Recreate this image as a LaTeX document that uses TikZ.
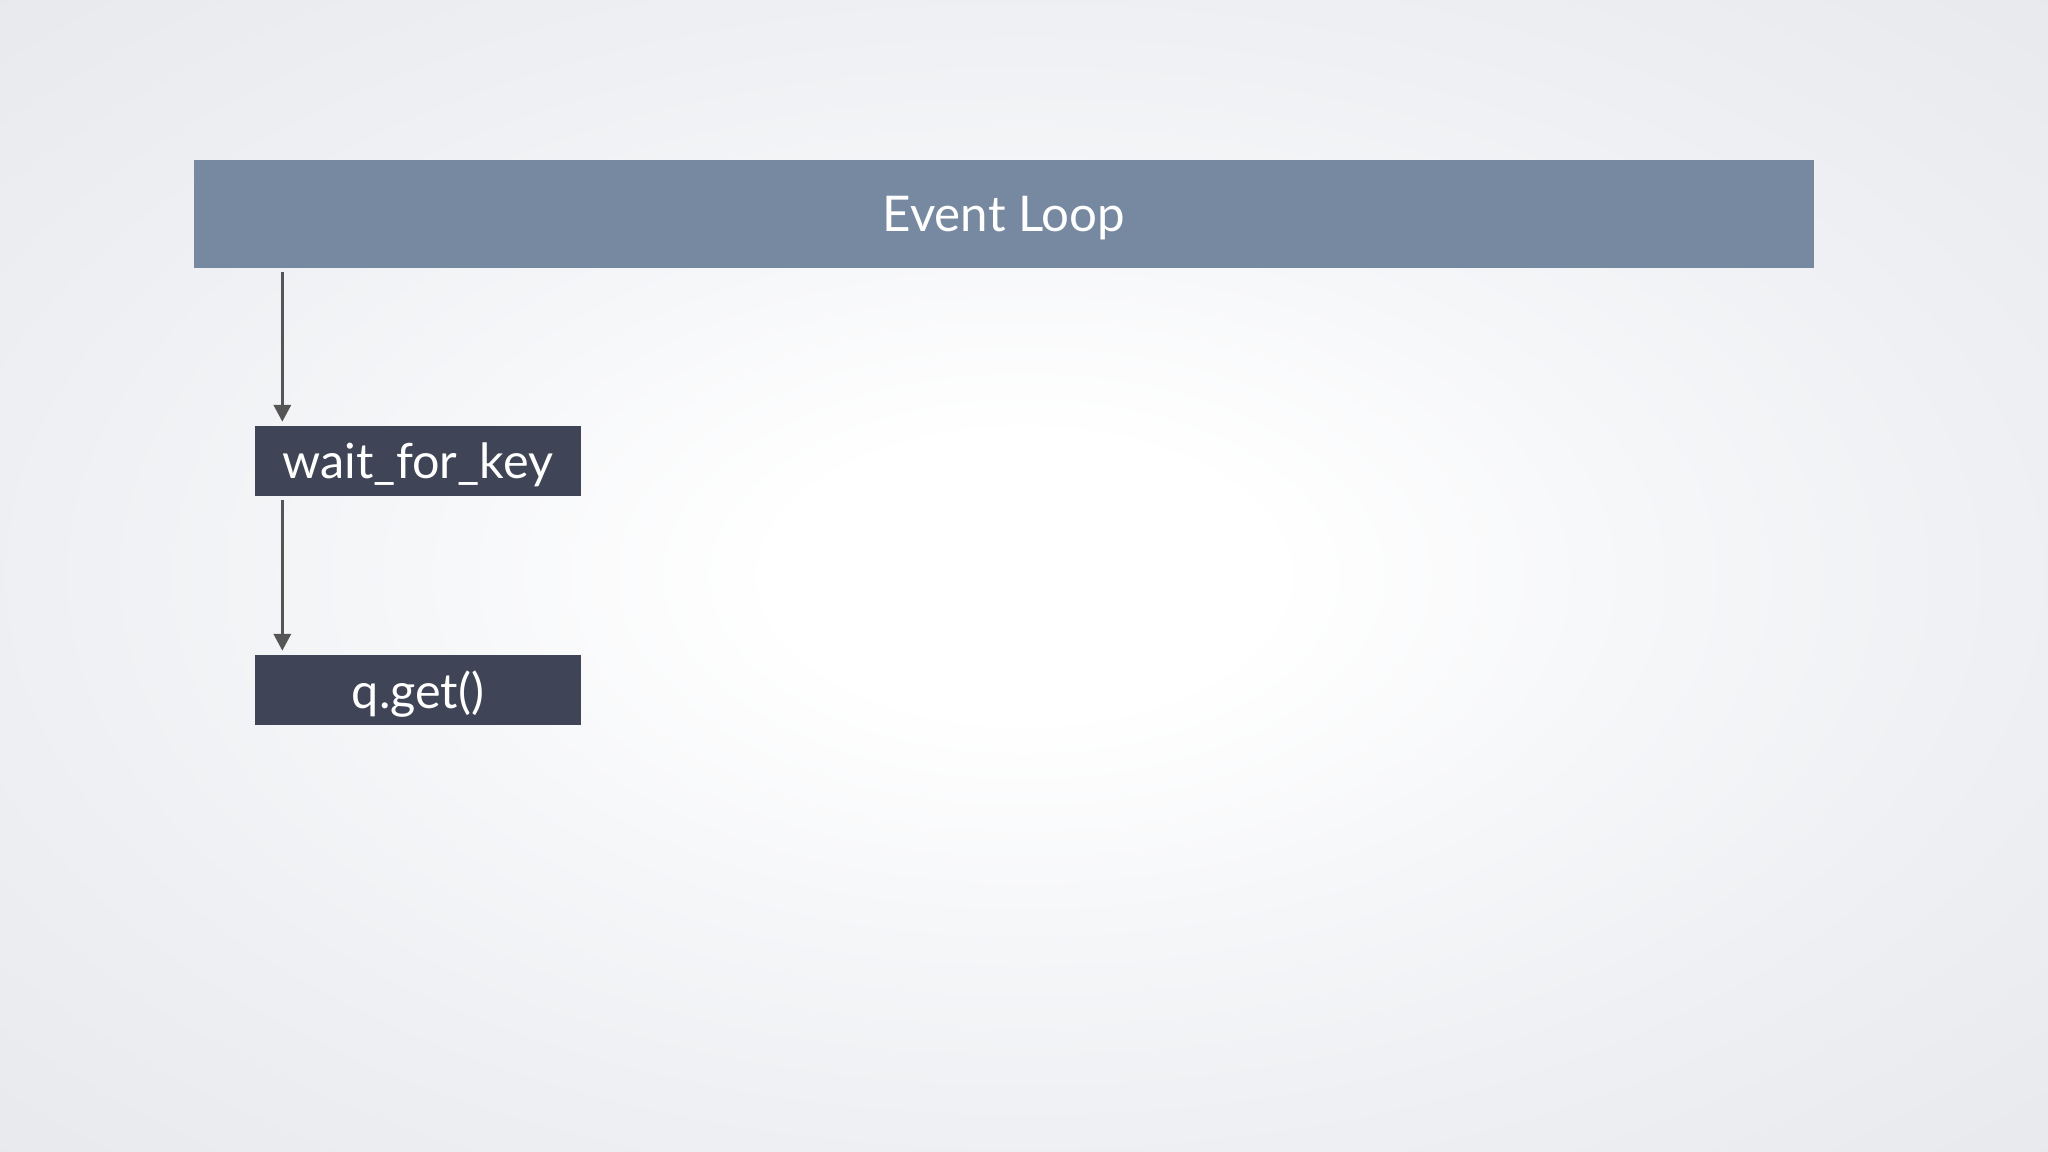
\documentclass[tikz,border=0pt]{standalone}
\usepackage{fontspec}
\setmainfont{Lato}
\usetikzlibrary{arrows.meta}
\definecolor{bginner}{HTML}{F6F7F9}
\definecolor{bgmid}{HTML}{EFF0F3}
\definecolor{bgedge}{HTML}{E8E9ED}
\definecolor{loopblue}{HTML}{7789A1}
\definecolor{boxdark}{HTML}{3F4556}
\definecolor{arrowgray}{HTML}{555555}
\pgfdeclareradialshading{bgglow}{\pgfpoint{0bp}{0bp}}{%
  color(0bp)=(white); color(6bp)=(white); color(15bp)=(bginner);
  color(24bp)=(bgmid); color(36bp)=(bgedge); color(50bp)=(bgedge)}

\begin{document}
\begin{tikzpicture}[x=0.01cm,y=-0.01cm,
    loopbar/.style={fill=loopblue,text=white,minimum width=16.2cm,minimum height=1.07cm,inner sep=0pt,text depth=0pt,font=\fontsize{14}{16}\selectfont},
    callbox/.style={fill=boxdark,text=white,minimum width=3.26cm,minimum height=0.7cm,inner sep=0pt,text depth=0pt,font=\fontsize{13.8}{16}\selectfont},
    flow/.style={arrowgray,line width=1pt,-{Triangle[width=4.8pt,length=4.8pt]},shorten <=1pt}]
    % 背景 (中央が明るいグラデーション)
    \useasboundingbox (0,0) rectangle (2048,1152);
    \shade[shading=bgglow] (0,0) rectangle (2048,1152);

    % イベントループと呼び出し
    \node[loopbar] (loop) at (1004,214) {Event Loop};
    \node[callbox] (wait) at (418,461) {wait\_for\_key};
    \node[callbox] (qget) at (418,690) {q.get()};

    % 矢印 (箱の左端から少し内側)
    \draw[flow] ([xshift=8pt]wait.north west |- loop.south) -- ([xshift=8pt,yshift=1pt]wait.north west);
    \draw[flow] ([xshift=8pt]wait.south west) -- ([xshift=8pt,yshift=1pt]qget.north west);
\end{tikzpicture}
\end{document}
